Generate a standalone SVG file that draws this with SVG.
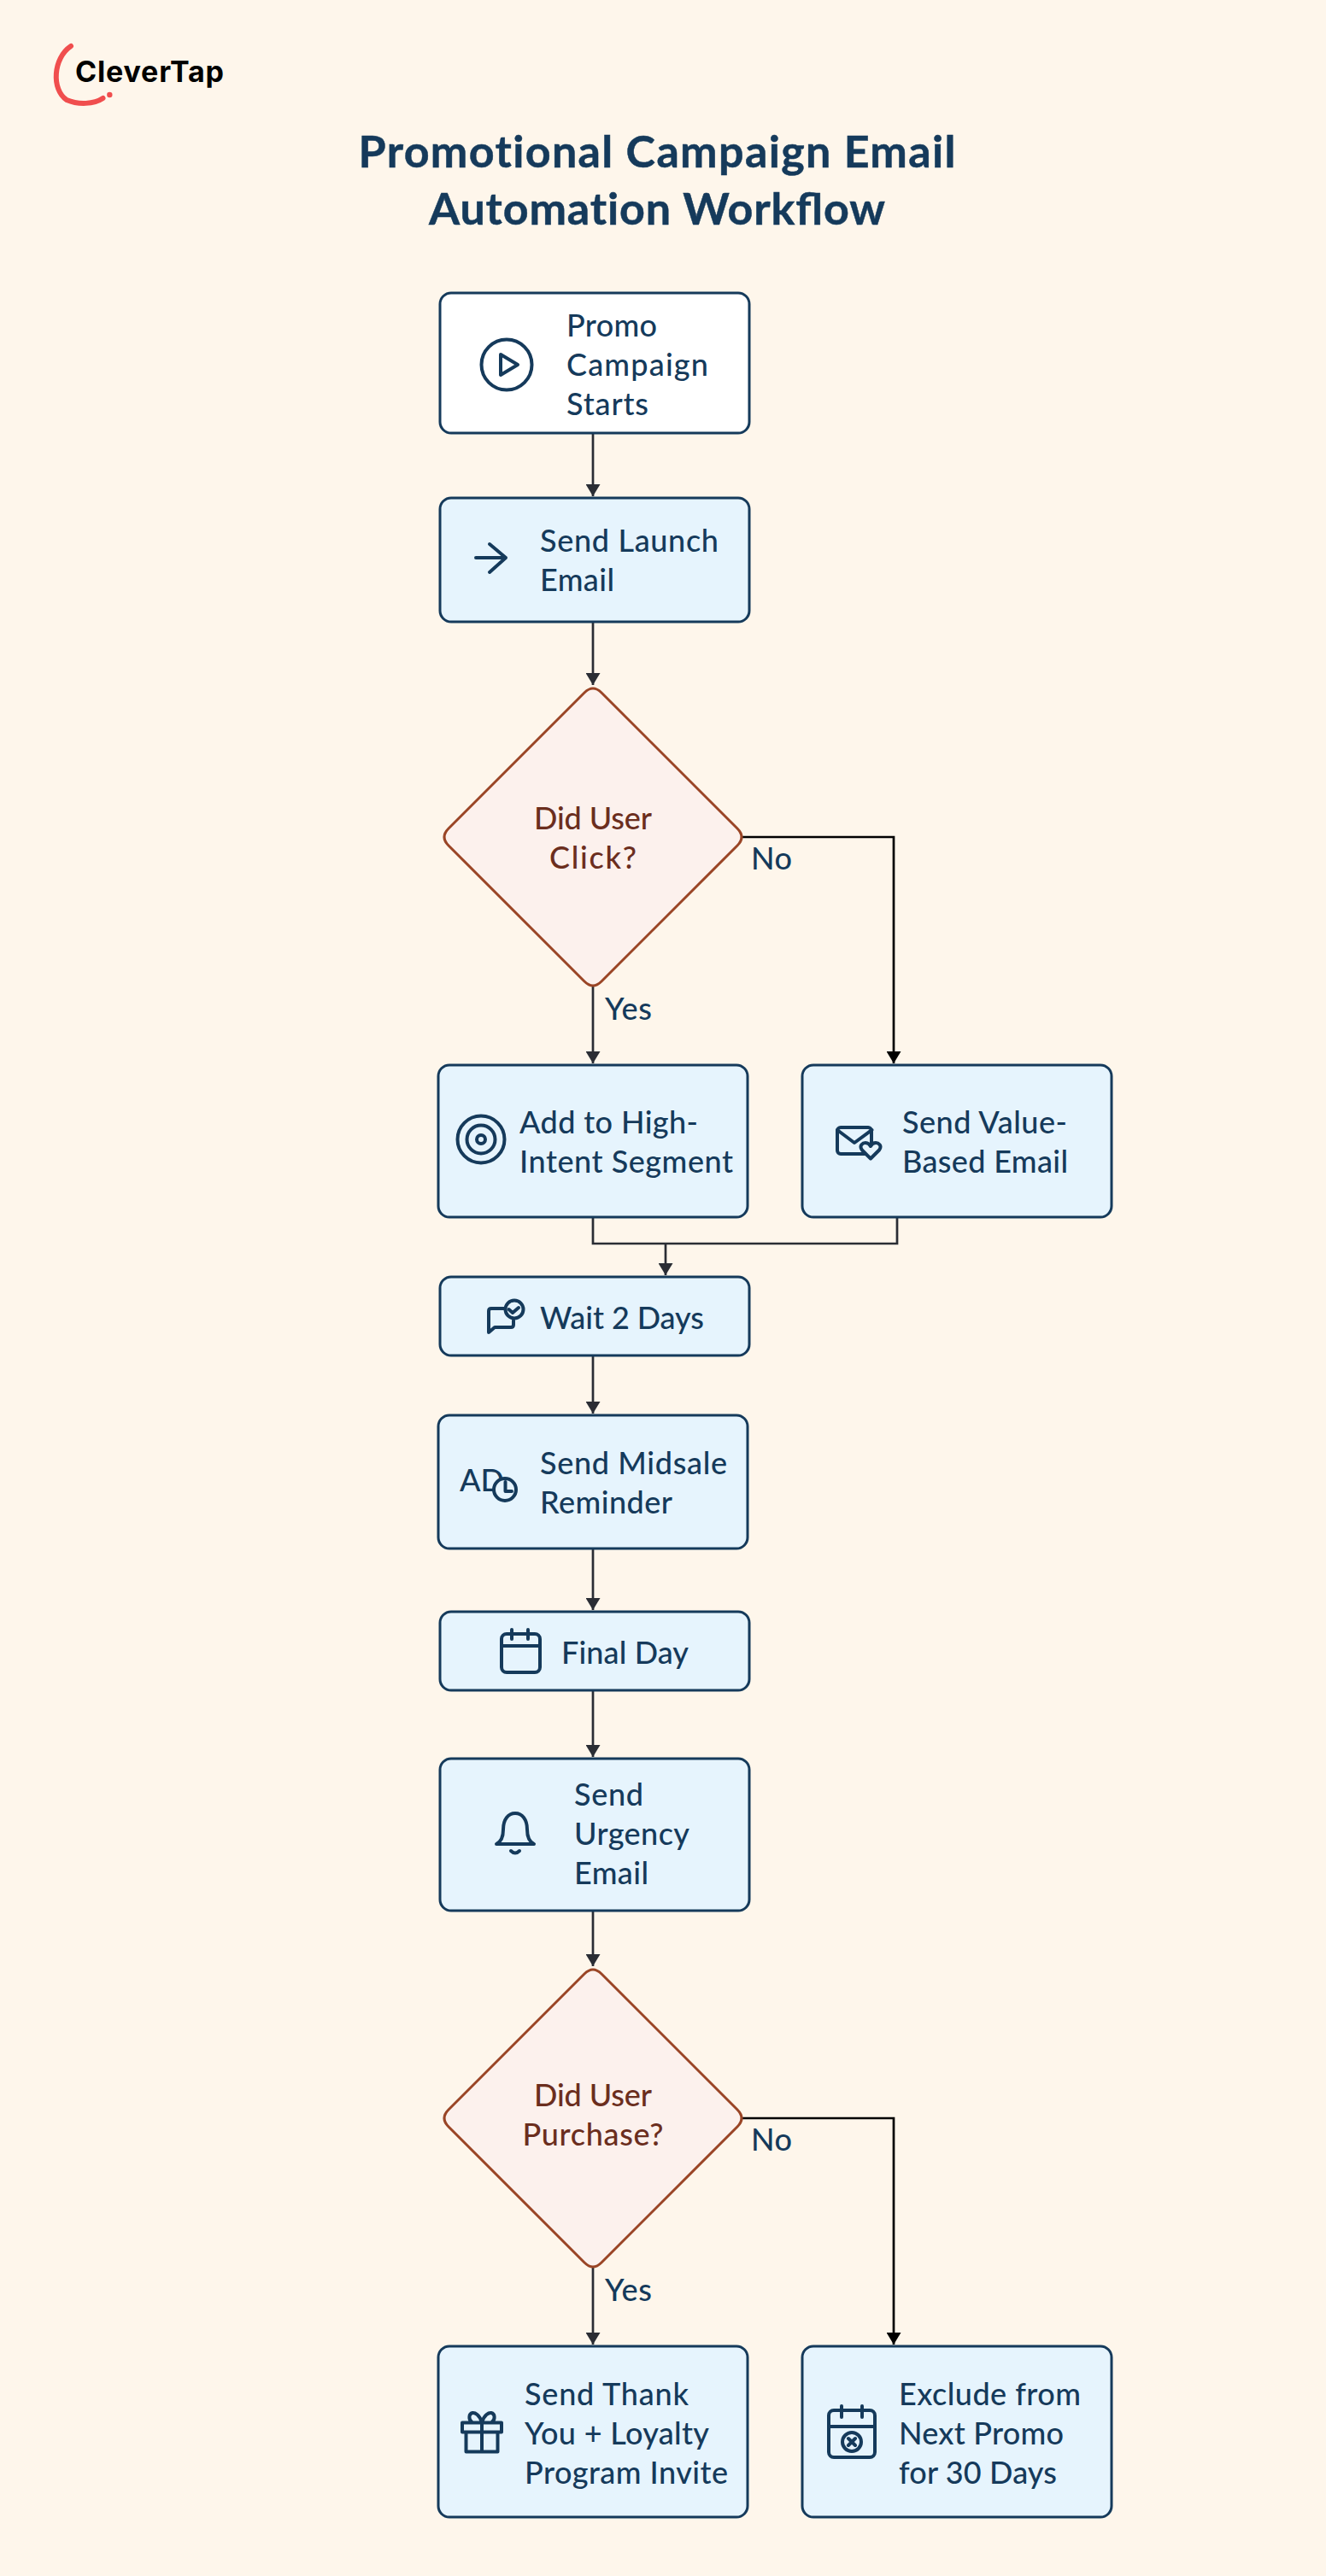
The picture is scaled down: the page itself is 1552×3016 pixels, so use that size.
<svg xmlns="http://www.w3.org/2000/svg" width="1552" height="3016" viewBox="0 0 1552 3016">
<style>
text{font-family:"Lato","Noto Sans",sans-serif;}
.n{fill:#E6F4FD;stroke:#153A5B;stroke-width:3;}
.s{fill:#fff;stroke:#153A5B;stroke-width:3;}
.d{fill:#FCF1ED;stroke:#9A4526;stroke-width:3;stroke-linejoin:round;}
.t{font-size:36px;font-weight:500;fill:#153A5B;}
.q{font-size:36px;font-weight:500;fill:#6B2E1E;text-anchor:middle;}
.title{font-size:52px;font-weight:700;fill:#153A5B;text-anchor:middle;stroke:#153A5B;stroke-width:.5px;}
.nl{font-variant-ligatures:none;}
.i{fill:none;stroke:#153A5B;stroke-width:4;stroke-linecap:round;stroke-linejoin:round;}
.f{fill:#E6F4FD;}
.c{fill:none;stroke:#2A2D34;stroke-width:2.7;}
.k{fill:none;stroke:#000;stroke-width:2.7;}
</style>
<defs>
<marker id="a" markerUnits="userSpaceOnUse" markerWidth="15" markerHeight="17" refX="14" refY="8.500" orient="auto"><path d="M0 0L14 8.500L0 17Z" fill="#2A2D34"/></marker>
<marker id="b" markerUnits="userSpaceOnUse" markerWidth="15" markerHeight="17" refX="14" refY="8.500" orient="auto"><path d="M0 0L14 8.500L0 17Z" fill="#000"/></marker>
</defs>
<rect width="1552" height="3016" fill="#FEF6EB"/>
<g id="logo">
<path d="M83 54C62 68 60 105 78 117C92 123 110 122 120.500 115" fill="none" stroke="#F04E4E" stroke-width="6" stroke-linecap="round"/>
<circle cx="128.300" cy="111" r="3.200" fill="#F04E4E"/>
<text x="88" y="96" font-size="34" font-weight="700" fill="#000" style="font-family:'Inter',sans-serif" textLength="174">CleverTap</text>
</g>
<g id="title">
<text class="title nl" x="769" y="196" textLength="699">Promotional Campaign Email</text>
<text class="title" x="769" y="263" textLength="534"><tspan class="nl">Automation</tspan> Workflow</text>
</g>
<g id="connectors">
<path class="c" marker-end="url(#a)" d="M694 507V581"/>
<path class="c" marker-end="url(#a)" d="M694 728V802"/>
<path class="c" marker-end="url(#a)" d="M694 1155V1245"/>
<path class="k" marker-end="url(#b)" d="M869 980H1046V1245"/>
<path class="c" d="M694 1425V1456H1050V1425"/>
<path class="c" marker-end="url(#a)" d="M779 1456V1493"/>
<path class="c" marker-end="url(#a)" d="M694 1587V1655"/>
<path class="c" marker-end="url(#a)" d="M694 1813V1885"/>
<path class="c" marker-end="url(#a)" d="M694 1979V2057"/>
<path class="c" marker-end="url(#a)" d="M694 2237V2302"/>
<path class="c" marker-end="url(#a)" d="M694 2655V2745"/>
<path class="k" marker-end="url(#b)" d="M869 2480H1046V2745"/>
</g>
<text class="t" x="879" y="1018" textLength="48">No</text>
<text class="t" x="708" y="1194" textLength="55">Yes</text>
<text class="t" x="879" y="2518" textLength="48">No</text>
<text class="t" x="708" y="2694" textLength="55">Yes</text>
<g id="n1"><rect class="s" x="515" y="343" width="362" height="164" rx="13"/>
<circle class="i" cx="593" cy="427" r="29.500"/><path class="i" d="M586 415L606 427L586 439Z"/>
<text class="t" x="663" y="394" textLength="106">Promo</text><text class="t" x="663" y="440" textLength="166">Campaign</text><text class="t" x="663" y="486" textLength="96">Starts</text></g>
<g id="n2"><rect class="n" x="515" y="583" width="362" height="145" rx="13"/>
<path class="i" d="M557 653H592M573 637L592 653L573 670"/>
<text class="t" x="632" y="646" textLength="209">Send Launch</text><text class="t" x="632" y="692" textLength="87">Email</text></g>
<g id="d1"><path class="d" d="M684 811Q694 801 704 811L863 970Q873 980 863 990L704 1149Q694 1159 684 1149L525 990Q515 980 525 970Z"/>
<text class="q" x="694" y="971" textLength="138">Did User</text><text class="q" x="694" y="1017" textLength="102">Click?</text></g>
<g id="n3"><rect class="n" x="513" y="1247" width="362" height="178" rx="13"/>
<circle class="i" cx="563" cy="1334" r="27.500"/><circle class="i" cx="563" cy="1334" r="16.500"/><circle class="i" cx="563" cy="1334" r="5"/>
<text class="t" x="608" y="1327" textLength="209">Add to High-</text><text class="t" x="608" y="1373" textLength="250">Intent Segment</text></g>
<g id="n4"><rect class="n" x="939" y="1247" width="362" height="178" rx="13"/>
<rect class="i" x="980" y="1320" width="40" height="31" rx="4"/><path class="i" d="M980 1323L1000 1338L1020.500 1323"/>
<path class="i f" d="M1019 1356.500L1009 1346.500C1005 1341 1010 1338 1013 1338C1016 1338 1018 1340 1019 1342C1020 1340 1022 1338 1025 1338C1028 1338 1033 1341 1029 1346.500Z"/>
<text class="t" x="1056" y="1327" textLength="193">Send Value-</text><text class="t" x="1056" y="1373" textLength="194">Based Email</text></g>
<g id="n5"><rect class="n" x="515" y="1495" width="362" height="92" rx="13"/>
<path class="i" d="M590 1532H575Q572 1532 572 1535V1560L579 1554H598Q601 1554 601 1551V1546"/>
<circle class="i" cx="602" cy="1533" r="10.500"/><path class="i" d="M595.500 1533L600 1537L607 1531"/>
<text class="t" x="632" y="1556" textLength="192">Wait 2 Days</text></g>
<g id="n6"><rect class="n" x="513" y="1657" width="362" height="156" rx="13"/>
<text x="538" y="1746" font-size="36" font-weight="500" fill="#153A5B" textLength="52">AD</text>
<circle class="i f" cx="591" cy="1744" r="13"/><path class="i" d="M591.500 1735V1746H599"/>
<text class="t" x="632" y="1726" textLength="219">Send Midsale</text><text class="t" x="632" y="1772" textLength="155">Reminder</text></g>
<g id="n7"><rect class="n" x="515" y="1887" width="362" height="92" rx="13"/>
<rect class="i" x="587" y="1913" width="45" height="45" rx="6"/><path class="i" d="M587 1927H632M599 1908V1919M618 1908V1919"/>
<text class="t" x="657" y="1948" textLength="149">Final Day</text></g>
<g id="n8"><rect class="n" x="515" y="2059" width="362" height="178" rx="13"/>
<path class="i" d="M581 2159Q589 2155 589 2142C589 2130 595 2123 603 2123C611 2123 617 2130 617 2142Q617 2155 625 2159ZM598 2167Q603 2172 608 2167"/>
<text class="t" x="672" y="2114" textLength="81">Send</text><text class="t" x="672" y="2160" textLength="135">Urgency</text><text class="t" x="672" y="2206" textLength="87">Email</text></g>
<g id="d2"><path class="d" d="M684 2311Q694 2301 704 2311L863 2470Q873 2480 863 2490L704 2649Q694 2659 684 2649L525 2490Q515 2480 525 2470Z"/>
<text class="q" x="694" y="2466" textLength="138">Did User</text><text class="q" x="694" y="2512" textLength="165">Purchase?</text></g>
<g id="n9"><rect class="n" x="513" y="2747" width="362" height="200" rx="13"/>
<path class="i" d="M541 2836.500H587V2847.500H541ZM545.500 2847.500V2870.500H582.500V2847.500M564 2836.500V2870.500M564 2836C561 2827 556 2824.500 553 2825C548.500 2826 548 2833 552.500 2836M564 2836C567 2827 572 2824.500 575 2825C579.500 2826 580 2833 575.500 2836"/>
<text class="t" x="614" y="2816" textLength="192">Send Thank</text><text class="t" x="614" y="2862" textLength="216">You + Loyalty</text><text class="t" x="614" y="2908" textLength="238">Program Invite</text></g>
<g id="n10"><rect class="n" x="939" y="2747" width="362" height="200" rx="13"/>
<rect class="i" x="970" y="2822" width="54" height="55" rx="6"/><path class="i" d="M970 2841H1024M985 2817V2830M1009 2817V2830M993 2855L1001 2863M1001 2855L993 2863"/><circle class="i" cx="997" cy="2859" r="11"/>
<text class="t" x="1052" y="2816" textLength="213">Exclude from</text><text class="t" x="1052" y="2862" textLength="193">Next Promo</text><text class="t" x="1052" y="2908" textLength="185">for 30 Days</text></g>
</svg>
